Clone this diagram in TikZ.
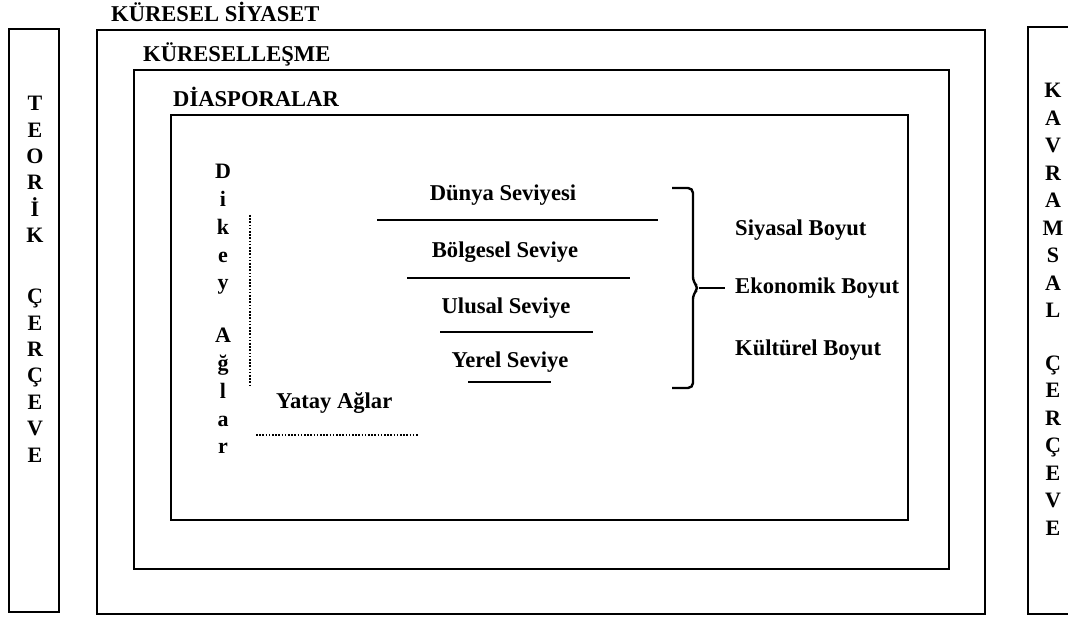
\documentclass[tikz,border=0pt]{standalone}
\usepackage{fontspec}
\setmainfont{Liberation Serif}
\begin{document}
\begin{tikzpicture}[x=1pt,y=-1pt,
  frame/.style={draw, line width=2.5pt},
  lbl/.style={font=\fontsize{22.6}{26}\selectfont\bfseries, inner sep=0pt, text height=15pt, text depth=4pt},
  vlbl/.style={font=\fontsize{22}{#1}\selectfont\bfseries, inner sep=0pt, align=center, anchor=north},
  level/.style={line width=2.4pt},
  dotline/.style={line width=2.5pt, dash pattern=on 1.6pt off 1.6pt},
]
\useasboundingbox (0,0) rectangle (1068,617);

% frames
\draw[frame] (9,29) rectangle (59,612);
\draw[frame] (1028,27) rectangle (1080,614);
\draw[frame] (97,30) rectangle (985,614);
\draw[frame] (134,70) rectangle (949,569);
\draw[frame] (171,115) rectangle (908,520);

% frame titles
\node[lbl, anchor=west] (kuresel) at (111,16) {KÜRESEL SİYASET};
\node[lbl, anchor=west] (kuresellesme) at (143,56) {KÜRESELLEŞME};
\node[lbl, anchor=west] (diaspora) at (173,101) {DİASPORALAR};

% side vertical titles
\node[vlbl=26.4] (teorik) at (35,96) {T\\E\\O\\R\\İ\\K\\[34.6pt]Ç\\E\\R\\Ç\\E\\V\\E};
\node[vlbl=27.5] (kavramsal) at (1053,83) {K\\A\\V\\R\\A\\M\\S\\A\\L\\[25pt]Ç\\E\\R\\Ç\\E\\V\\E};

% Dikey Ağlar
\node[vlbl=27.8] (dikey) at (223,164) {D\\i\\k\\e\\y\\[25pt]A\\ğ\\l\\a\\r};
\coordinate (dv1) at (250,215);
\coordinate (dv2) at (250,387);
\draw[dotline] (dv1) -- (dv2);

% Yatay Ağlar
\node[lbl, anchor=west] (yatay) at (276,403) {Yatay Ağlar};
\coordinate (dh1) at (256,435);
\coordinate (dh2) at (418,435);
\draw[dotline] (dh1) -- (dh2);

% levels
\node[lbl] (dunya) at (503,195) {Dünya Seviyesi};
\node[lbl] (bolge) at (505,252) {Bölgesel Seviye};
\node[lbl] (ulusal) at (506,308) {Ulusal Seviye};
\node[lbl] (yerel) at (510,362) {Yerel Seviye};

\coordinate (l1a) at (377,220); \coordinate (l1b) at (658,220);
\coordinate (l2a) at (407,278); \coordinate (l2b) at (630,278);
\coordinate (l3a) at (440,332); \coordinate (l3b) at (593,332);
\coordinate (l4a) at (468,382); \coordinate (l4b) at (551,382);
\draw[level] (l1a) -- (l1b);
\draw[level] (l2a) -- (l2b);
\draw[level] (l3a) -- (l3b);
\draw[level] (l4a) -- (l4b);

% dimensions
\node[lbl, anchor=west] (siyasal) at (735,230) {Siyasal Boyut};
\node[lbl, anchor=west] (ekonomik) at (735,288) {Ekonomik Boyut};
\node[lbl, anchor=west] (kulturel) at (735,350) {Kültürel Boyut};

% brace
\coordinate (btop) at (672,188);
\coordinate (bbot) at (672,388);
\coordinate (tip) at (699,288);
\draw[level, rounded corners=5pt] (btop) -- (693,188) -- (693,282) -- (tip) -- (693,294) -- (693,388) -- (bbot);
\draw[level] (tip) -- ([xshift=-10pt]ekonomik.west);
\end{tikzpicture}
\end{document}
